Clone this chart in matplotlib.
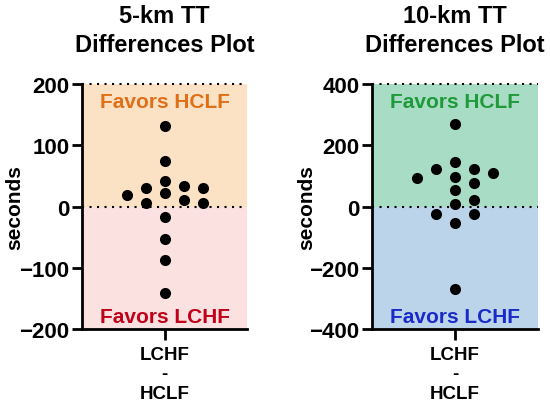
import matplotlib
matplotlib.use('Agg')
import matplotlib.pyplot as plt
import numpy as np

plt.rcParams['font.family'] = ['Liberation Sans', 'DejaVu Sans']
plt.rcParams['font.weight'] = 'bold'
plt.rcParams['axes.labelweight'] = 'bold'
plt.rcParams['axes.titleweight'] = 'bold'

# ---- data ----
titles = ['5-km TT\nDifferences Plot', '10-km TT\nDifferences Plot']
category = 'LCHF\n-\nHCLF'
y_label = 'seconds'
upper_text = 'Favors HCLF'
lower_text = 'Favors LCHF'
diff_5km = [131, 74, 42, 34, 31, 31, 22, 19, 10, 6, 6, -17, -53, -87, -142]
diff_10km = [270, 146, 124, 122, 111, 97, 92, 76, 54, 22, 9, -24, -25, -54, -270]
limits_5km = [-200, 200]
limits_10km = [-400, 400]
ticks_5km = [-200, -100, 0, 100, 200]
ticks_10km = [-400, -200, 0, 200, 400]

# ---- styles ----
upper_bg = ['#FCE2C4', '#A9DCC4']
lower_bg = ['#FCE1E1', '#BCD4EA']
upper_fg = ['#E07018', '#1E9A3A']
lower_fg = ['#C00018', '#1A2AC8']

W, H = 550, 410
fig = plt.figure(figsize=(W / 100, H / 100), dpi=100)
axes = [fig.add_axes([82 / W, 1 - 330 / H, 165 / W, 245 / H]),
        fig.add_axes([372 / W, 1 - 330 / H, 166 / W, 245 / H])]
label_x = [-0.41, -0.39]


def swarm_offsets(ax, values, step_px=19.0, diam_px=11.0):
    """Greedy grid beeswarm: place each point at the slot closest to the centre
    that does not overlap an already placed point in the same slot."""
    vals = np.asarray(values, dtype=float)
    ypx = ax.transData.transform(np.column_stack([np.zeros_like(vals), vals]))[:, 1]
    order = np.argsort(-vals)
    placed = {}
    slots = np.zeros(len(vals))
    cands = [0]
    for n in range(1, 10):
        cands += [n, -n]
    for i in order:
        for c in cands:
            if all(abs(ypx[i] - ypx[j]) >= diam_px for j in placed.get(c, [])):
                placed.setdefault(c, []).append(i)
                slots[i] = c
                break
    x0 = ax.transData.transform((0, 0))[0]
    inv = ax.transData.inverted()
    return np.array([inv.transform((x0 + s * step_px, 0))[0] for s in slots])


datasets = [diff_5km, diff_10km]
limits = [limits_5km, limits_10km]
ticks = [ticks_5km, ticks_10km]

for i, ax in enumerate(axes):
    lo, hi = limits[i]
    ax.set_xlim(-1, 1)
    ax.set_ylim(lo, hi)
    ax.axhspan(0, hi, color=upper_bg[i], zorder=0, lw=0)
    ax.axhspan(lo, 0, color=lower_bg[i], zorder=0, lw=0)
    for yv in (0, hi):
        ax.axhline(yv, color='black', lw=1.5, ls=(0, (1, 2.6)), zorder=1,
                   clip_on=False)
    xs = swarm_offsets(ax, datasets[i])
    ax.scatter(xs, datasets[i], s=64, color='black', zorder=3, lw=0)
    for sp in ('top', 'right'):
        ax.spines[sp].set_visible(False)
    for sp in ('left', 'bottom'):
        ax.spines[sp].set_linewidth(2)
    ax.set_yticks(ticks[i])
    ax.set_yticklabels([str(t).replace('-', '\u2212') for t in ticks[i]])
    ax.tick_params(axis='y', direction='out', length=7, width=2, labelsize=16, pad=2)
    ax.set_xticks([0])
    ax.set_xticklabels([category])
    ax.tick_params(axis='x', direction='out', length=8, width=2, labelsize=13.5, pad=4)
    ax.set_ylabel(y_label, fontsize=15, va='center')
    ax.yaxis.set_label_coords(label_x[i], 0.5)
    ax.set_title(titles[i], fontsize=17, pad=24, linespacing=1.3)
    ax.text(0.5, 0.927, upper_text, transform=ax.transAxes, ha='center',
            va='center', color=upper_fg[i], fontsize=15, zorder=4)
    ax.text(0.5, 0.053, lower_text, transform=ax.transAxes, ha='center',
            va='center', color=lower_fg[i], fontsize=15, zorder=4)

fig.savefig('out.png', dpi=100, facecolor='white')
